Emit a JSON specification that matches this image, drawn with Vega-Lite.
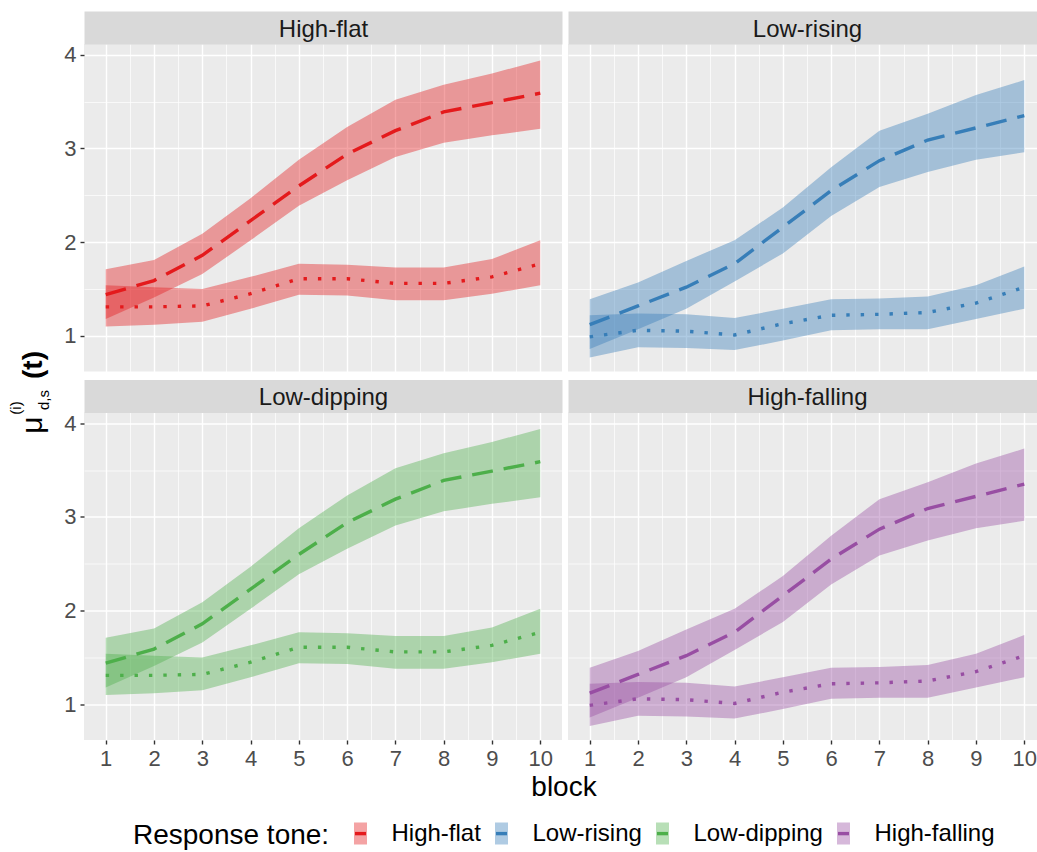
{
"$schema": "https://vega.github.io/schema/vega-lite/v6.json",
"padding": {"left": 8, "top": 17, "right": 0, "bottom": 0},
"config": {"font": "Liberation Sans", "view": {"stroke": null}},
"datasets": {
"main": [
{"tone":"High-flat","kind":"a","block":1,"mean":1.44,"lo":1.18,"hi":1.71},
{"tone":"High-flat","kind":"a","block":2,"mean":1.59,"lo":1.41,"hi":1.81},
{"tone":"High-flat","kind":"a","block":3,"mean":1.86,"lo":1.66,"hi":2.09},
{"tone":"High-flat","kind":"a","block":4,"mean":2.23,"lo":2.02,"hi":2.47},
{"tone":"High-flat","kind":"a","block":5,"mean":2.60,"lo":2.39,"hi":2.88},
{"tone":"High-flat","kind":"a","block":6,"mean":2.94,"lo":2.66,"hi":3.23},
{"tone":"High-flat","kind":"a","block":7,"mean":3.19,"lo":2.91,"hi":3.52},
{"tone":"High-flat","kind":"a","block":8,"mean":3.39,"lo":3.06,"hi":3.68},
{"tone":"High-flat","kind":"a","block":9,"mean":3.49,"lo":3.14,"hi":3.80},
{"tone":"High-flat","kind":"a","block":10,"mean":3.59,"lo":3.21,"hi":3.94},
{"tone":"High-flat","kind":"b","block":1,"mean":1.31,"lo":1.10,"hi":1.54},
{"tone":"High-flat","kind":"b","block":2,"mean":1.31,"lo":1.12,"hi":1.52},
{"tone":"High-flat","kind":"b","block":3,"mean":1.32,"lo":1.15,"hi":1.50},
{"tone":"High-flat","kind":"b","block":4,"mean":1.45,"lo":1.29,"hi":1.63},
{"tone":"High-flat","kind":"b","block":5,"mean":1.61,"lo":1.44,"hi":1.77},
{"tone":"High-flat","kind":"b","block":6,"mean":1.61,"lo":1.43,"hi":1.76},
{"tone":"High-flat","kind":"b","block":7,"mean":1.56,"lo":1.38,"hi":1.73},
{"tone":"High-flat","kind":"b","block":8,"mean":1.56,"lo":1.38,"hi":1.73},
{"tone":"High-flat","kind":"b","block":9,"mean":1.63,"lo":1.45,"hi":1.82},
{"tone":"High-flat","kind":"b","block":10,"mean":1.77,"lo":1.54,"hi":2.02},
{"tone":"Low-rising","kind":"a","block":1,"mean":1.12,"lo":0.86,"hi":1.39},
{"tone":"Low-rising","kind":"a","block":2,"mean":1.32,"lo":1.07,"hi":1.57},
{"tone":"Low-rising","kind":"a","block":3,"mean":1.52,"lo":1.29,"hi":1.80},
{"tone":"Low-rising","kind":"a","block":4,"mean":1.77,"lo":1.58,"hi":2.02},
{"tone":"Low-rising","kind":"a","block":5,"mean":2.16,"lo":1.88,"hi":2.37},
{"tone":"Low-rising","kind":"a","block":6,"mean":2.55,"lo":2.28,"hi":2.80},
{"tone":"Low-rising","kind":"a","block":7,"mean":2.87,"lo":2.59,"hi":3.19},
{"tone":"Low-rising","kind":"a","block":8,"mean":3.09,"lo":2.75,"hi":3.37},
{"tone":"Low-rising","kind":"a","block":9,"mean":3.22,"lo":2.88,"hi":3.57},
{"tone":"Low-rising","kind":"a","block":10,"mean":3.35,"lo":2.96,"hi":3.73},
{"tone":"Low-rising","kind":"b","block":1,"mean":0.99,"lo":0.77,"hi":1.22},
{"tone":"Low-rising","kind":"b","block":2,"mean":1.06,"lo":0.88,"hi":1.24},
{"tone":"Low-rising","kind":"b","block":3,"mean":1.05,"lo":0.87,"hi":1.23},
{"tone":"Low-rising","kind":"b","block":4,"mean":1.01,"lo":0.85,"hi":1.19},
{"tone":"Low-rising","kind":"b","block":5,"mean":1.13,"lo":0.95,"hi":1.29},
{"tone":"Low-rising","kind":"b","block":6,"mean":1.22,"lo":1.06,"hi":1.39},
{"tone":"Low-rising","kind":"b","block":7,"mean":1.23,"lo":1.07,"hi":1.40},
{"tone":"Low-rising","kind":"b","block":8,"mean":1.25,"lo":1.07,"hi":1.42},
{"tone":"Low-rising","kind":"b","block":9,"mean":1.35,"lo":1.18,"hi":1.54},
{"tone":"Low-rising","kind":"b","block":10,"mean":1.52,"lo":1.29,"hi":1.74},
{"tone":"Low-dipping","kind":"a","block":1,"mean":1.44,"lo":1.18,"hi":1.71},
{"tone":"Low-dipping","kind":"a","block":2,"mean":1.59,"lo":1.41,"hi":1.81},
{"tone":"Low-dipping","kind":"a","block":3,"mean":1.86,"lo":1.66,"hi":2.09},
{"tone":"Low-dipping","kind":"a","block":4,"mean":2.23,"lo":2.02,"hi":2.47},
{"tone":"Low-dipping","kind":"a","block":5,"mean":2.60,"lo":2.39,"hi":2.88},
{"tone":"Low-dipping","kind":"a","block":6,"mean":2.94,"lo":2.66,"hi":3.23},
{"tone":"Low-dipping","kind":"a","block":7,"mean":3.19,"lo":2.91,"hi":3.52},
{"tone":"Low-dipping","kind":"a","block":8,"mean":3.39,"lo":3.06,"hi":3.68},
{"tone":"Low-dipping","kind":"a","block":9,"mean":3.49,"lo":3.14,"hi":3.80},
{"tone":"Low-dipping","kind":"a","block":10,"mean":3.59,"lo":3.21,"hi":3.94},
{"tone":"Low-dipping","kind":"b","block":1,"mean":1.31,"lo":1.10,"hi":1.54},
{"tone":"Low-dipping","kind":"b","block":2,"mean":1.31,"lo":1.12,"hi":1.52},
{"tone":"Low-dipping","kind":"b","block":3,"mean":1.32,"lo":1.15,"hi":1.50},
{"tone":"Low-dipping","kind":"b","block":4,"mean":1.45,"lo":1.29,"hi":1.63},
{"tone":"Low-dipping","kind":"b","block":5,"mean":1.61,"lo":1.44,"hi":1.77},
{"tone":"Low-dipping","kind":"b","block":6,"mean":1.61,"lo":1.43,"hi":1.76},
{"tone":"Low-dipping","kind":"b","block":7,"mean":1.56,"lo":1.38,"hi":1.73},
{"tone":"Low-dipping","kind":"b","block":8,"mean":1.56,"lo":1.38,"hi":1.73},
{"tone":"Low-dipping","kind":"b","block":9,"mean":1.63,"lo":1.45,"hi":1.82},
{"tone":"Low-dipping","kind":"b","block":10,"mean":1.77,"lo":1.54,"hi":2.02},
{"tone":"High-falling","kind":"a","block":1,"mean":1.12,"lo":0.86,"hi":1.39},
{"tone":"High-falling","kind":"a","block":2,"mean":1.32,"lo":1.07,"hi":1.57},
{"tone":"High-falling","kind":"a","block":3,"mean":1.52,"lo":1.29,"hi":1.80},
{"tone":"High-falling","kind":"a","block":4,"mean":1.77,"lo":1.58,"hi":2.02},
{"tone":"High-falling","kind":"a","block":5,"mean":2.16,"lo":1.88,"hi":2.37},
{"tone":"High-falling","kind":"a","block":6,"mean":2.55,"lo":2.28,"hi":2.80},
{"tone":"High-falling","kind":"a","block":7,"mean":2.87,"lo":2.59,"hi":3.19},
{"tone":"High-falling","kind":"a","block":8,"mean":3.09,"lo":2.75,"hi":3.37},
{"tone":"High-falling","kind":"a","block":9,"mean":3.22,"lo":2.88,"hi":3.57},
{"tone":"High-falling","kind":"a","block":10,"mean":3.35,"lo":2.96,"hi":3.73},
{"tone":"High-falling","kind":"b","block":1,"mean":0.99,"lo":0.77,"hi":1.22},
{"tone":"High-falling","kind":"b","block":2,"mean":1.06,"lo":0.88,"hi":1.24},
{"tone":"High-falling","kind":"b","block":3,"mean":1.05,"lo":0.87,"hi":1.23},
{"tone":"High-falling","kind":"b","block":4,"mean":1.01,"lo":0.85,"hi":1.19},
{"tone":"High-falling","kind":"b","block":5,"mean":1.13,"lo":0.95,"hi":1.29},
{"tone":"High-falling","kind":"b","block":6,"mean":1.22,"lo":1.06,"hi":1.39},
{"tone":"High-falling","kind":"b","block":7,"mean":1.23,"lo":1.07,"hi":1.40},
{"tone":"High-falling","kind":"b","block":8,"mean":1.25,"lo":1.07,"hi":1.42},
{"tone":"High-falling","kind":"b","block":9,"mean":1.35,"lo":1.18,"hi":1.54},
{"tone":"High-falling","kind":"b","block":10,"mean":1.52,"lo":1.29,"hi":1.74}
]
},
"columns": 2,
"spacing": {"row": 40.5, "column": 6},
"bounds": "flush",
"concat": [
{"width": 478, "height": 327.5, "data": {"name": "main"}, "transform": [{"filter": "datum.tone === 'High-flat'"}], "view": {"fill": "#EBEBEB", "stroke": null},
 "resolve": {"axis": {"x": "independent"}},
 "layer": [
  {"mark": {"type": "area", "fillOpacity": 0.4},
   "encoding": {
    "x": {"field": "block", "type": "quantitative", "scale": {"domain": [0.55, 10.45], "nice": false, "zero": false},
      "axis": {"values": [1,1.5,2,2.5,3,3.5,4,4.5,5,5.5,6,6.5,7,7.5,8,8.5,9,9.5,10], "labels": false, "ticks": false, "domain": false, "title": null, "gridColor": "#FFFFFF", "gridWidth": {"condition": {"test": "datum.value % 1 === 0", "value": 1.4}, "value": 0.7}}},
    "y": {"field": "lo", "type": "quantitative", "scale": {"domain": [0.62, 4.115], "nice": false, "zero": false},
     "axis": {"values": [1,1.5,2,2.5,3,3.5,4], "domain": false, "labelExpr": "datum.value % 1 === 0 ? '' + datum.value : ''", "labelFontSize": 22, "labelColor": "#4D4D4D", "labelPadding": 4, "labelOverlap": false, "labelFlush": false, "tickColor": "#333333", "tickSize": 4, "tickWidth": 1.4, "tickOpacity": {"condition": {"test": "datum.value % 1 === 0", "value": 1}, "value": 0}, "gridColor": "#FFFFFF", "gridWidth": {"condition": {"test": "datum.value % 1 === 0", "value": 1.4}, "value": 0.7}, "title": null}},
    "y2": {"field": "hi"},
    "detail": {"field": "kind"},
    "fill": {"field": "tone", "type": "nominal", "scale": {"domain": ["High-flat","Low-rising","Low-dipping","High-falling"], "range": ["#E41A1C","#377EB8","#4DAF4A","#984EA3"]},
     "legend": {"title": "Response tone:", "orient": "none", "legendX": 49, "legendY": 776.5, "direction": "horizontal", "columns": 4, "titleOrient": "left", "titleAnchor": "middle", "titleBaseline": "middle", "titleFontSize": 28, "titleFontWeight": "normal", "titleColor": "#000000", "titleLimit": 500, "titlePadding": 17.5, "labelFontSize": 24, "labelColor": "#000000", "labelOffset": 18, "columnPadding": 6, "padding": 0, "symbolType": "M-0.59,0L0.59,0L0.59,1L-0.59,1L-0.59,-1L0.59,-1L0.59,0Z", "symbolSize": 484, "symbolStrokeWidth": 3.4,
      "encode": {"symbols": {"update": {"fillOpacity": {"value": 0.4}, "strokeOpacity": {"value": 1}, "opacity": {"value": 1}, "strokeDash": {"value": [0, 1, 11, 1000]}, "stroke": {"signal": "datum.value === 'High-flat' ? '#E41A1C' : datum.value === 'Low-rising' ? '#377EB8' : datum.value === 'Low-dipping' ? '#4DAF4A' : '#984EA3'"}}}}}}}},
  {"mark": {"type": "line", "strokeWidth": 3.4},
   "encoding": {
    "x": {"field": "block", "type": "quantitative", "scale": {"domain": [0.55, 10.45], "nice": false, "zero": false},
      "axis": {"orient": "top", "grid": false, "labels": false, "ticks": false, "domain": true, "domainColor": "#D9D9D9", "domainWidth": 33, "offset": 16.5, "title": "High-flat", "titleX": 239, "titleY": 1.5, "titleAlign": "center", "titleBaseline": "middle", "titleFontSize": 24, "titleFontWeight": "normal", "titleColor": "#1A1A1A"}},
    "y": {"field": "mean", "type": "quantitative", "title": null},
    "stroke": {"field": "tone", "type": "nominal", "scale": {"domain": ["High-flat","Low-rising","Low-dipping","High-falling"], "range": ["#E41A1C","#377EB8","#4DAF4A","#984EA3"]}, "legend": null},
    "strokeDash": {"field": "kind", "type": "nominal", "scale": {"domain": ["a","b"], "range": [[21,11],[3.4,11]]}, "legend": null}}},
  {"data": {"values": [{"tone": "High-flat"}]}, "mark": {"type": "text", "text": "μ", "angle": 270, "fontSize": 30, "dx": -217.25, "dy": -281.5, "align": "center", "baseline": "alphabetic", "color": "#000000"}, "encoding": {}},
  {"data": {"values": [{"tone": "High-flat"}]}, "mark": {"type": "text", "text": "(i)", "angle": 270, "fontSize": 15, "dx": -200.25, "dy": -302.5, "align": "center", "baseline": "alphabetic", "color": "#000000"}, "encoding": {}},
  {"data": {"values": [{"tone": "High-flat"}]}, "mark": {"type": "text", "text": "d,s", "angle": 270, "fontSize": 15, "dx": -192.25, "dy": -274, "align": "center", "baseline": "alphabetic", "color": "#000000"}, "encoding": {}},
  {"data": {"values": [{"tone": "High-flat"}]}, "mark": {"type": "text", "text": "(t)", "angle": 270, "fontSize": 28, "fontWeight": "bold", "dx": -157.25, "dy": -281.5, "align": "center", "baseline": "alphabetic", "color": "#000000"}, "encoding": {}}
 ]},
{"width": 469, "height": 327.5, "data": {"name": "main"}, "transform": [{"filter": "datum.tone === 'Low-rising'"}], "view": {"fill": "#EBEBEB", "stroke": null},
 "resolve": {"axis": {"x": "independent"}},
 "layer": [
  {"mark": {"type": "area", "fillOpacity": 0.4},
   "encoding": {
    "x": {"field": "block", "type": "quantitative", "scale": {"domain": [0.55, 10.2636], "nice": false, "zero": false},
      "axis": {"values": [1,1.5,2,2.5,3,3.5,4,4.5,5,5.5,6,6.5,7,7.5,8,8.5,9,9.5,10], "labels": false, "ticks": false, "domain": false, "title": null, "gridColor": "#FFFFFF", "gridWidth": {"condition": {"test": "datum.value % 1 === 0", "value": 1.4}, "value": 0.7}}},
    "y": {"field": "lo", "type": "quantitative", "scale": {"domain": [0.62, 4.115], "nice": false, "zero": false},
     "axis": {"values": [1,1.5,2,2.5,3,3.5,4], "labels": false, "ticks": false, "domain": false, "gridColor": "#FFFFFF", "gridWidth": {"condition": {"test": "datum.value % 1 === 0", "value": 1.4}, "value": 0.7}, "title": null}},
    "y2": {"field": "hi"},
    "detail": {"field": "kind"},
    "fill": {"field": "tone", "type": "nominal", "scale": {"domain": ["High-flat","Low-rising","Low-dipping","High-falling"], "range": ["#E41A1C","#377EB8","#4DAF4A","#984EA3"]},
     "legend": {"title": "Response tone:", "orient": "none", "legendX": 49, "legendY": 776.5, "direction": "horizontal", "columns": 4, "titleOrient": "left", "titleAnchor": "middle", "titleBaseline": "middle", "titleFontSize": 28, "titleFontWeight": "normal", "titleColor": "#000000", "titleLimit": 500, "titlePadding": 17.5, "labelFontSize": 24, "labelColor": "#000000", "labelOffset": 18, "columnPadding": 6, "padding": 0, "symbolType": "M-0.59,0L0.59,0L0.59,1L-0.59,1L-0.59,-1L0.59,-1L0.59,0Z", "symbolSize": 484, "symbolStrokeWidth": 3.4,
      "encode": {"symbols": {"update": {"fillOpacity": {"value": 0.4}, "strokeOpacity": {"value": 1}, "opacity": {"value": 1}, "strokeDash": {"value": [0, 1, 11, 1000]}, "stroke": {"signal": "datum.value === 'High-flat' ? '#E41A1C' : datum.value === 'Low-rising' ? '#377EB8' : datum.value === 'Low-dipping' ? '#4DAF4A' : '#984EA3'"}}}}}}}},
  {"mark": {"type": "line", "strokeWidth": 3.4},
   "encoding": {
    "x": {"field": "block", "type": "quantitative", "scale": {"domain": [0.55, 10.2636], "nice": false, "zero": false},
      "axis": {"orient": "top", "grid": false, "labels": false, "ticks": false, "domain": true, "domainColor": "#D9D9D9", "domainWidth": 33, "offset": 16.5, "title": "Low-rising", "titleX": 239, "titleY": 1.5, "titleAlign": "center", "titleBaseline": "middle", "titleFontSize": 24, "titleFontWeight": "normal", "titleColor": "#1A1A1A"}},
    "y": {"field": "mean", "type": "quantitative", "title": null},
    "stroke": {"field": "tone", "type": "nominal", "scale": {"domain": ["High-flat","Low-rising","Low-dipping","High-falling"], "range": ["#E41A1C","#377EB8","#4DAF4A","#984EA3"]}, "legend": null},
    "strokeDash": {"field": "kind", "type": "nominal", "scale": {"domain": ["a","b"], "range": [[21,11],[3.4,11]]}, "legend": null}}}
 ]},
{"width": 478, "height": 327.5, "data": {"name": "main"}, "transform": [{"filter": "datum.tone === 'Low-dipping'"}], "view": {"fill": "#EBEBEB", "stroke": null},
 "resolve": {"axis": {"x": "independent"}},
 "layer": [
  {"mark": {"type": "area", "fillOpacity": 0.4},
   "encoding": {
    "x": {"field": "block", "type": "quantitative", "scale": {"domain": [0.55, 10.45], "nice": false, "zero": false},
      "axis": {"values": [1,1.5,2,2.5,3,3.5,4,4.5,5,5.5,6,6.5,7,7.5,8,8.5,9,9.5,10], "domain": false, "labelExpr": "datum.value % 1 === 0 ? '' + datum.value : ''", "labelFontSize": 22, "labelColor": "#4D4D4D", "labelPadding": 4.5, "labelOverlap": false, "labelFlush": false, "tickColor": "#333333", "tickSize": 4, "tickWidth": 1.4, "tickOpacity": {"condition": {"test": "datum.value % 1 === 0", "value": 1}, "value": 0}, "gridColor": "#FFFFFF", "gridWidth": {"condition": {"test": "datum.value % 1 === 0", "value": 1.4}, "value": 0.7},
       "title": "block", "titleX": 479.5, "titleY": 55.5, "titleAlign": "center", "titleBaseline": "alphabetic", "titleFontSize": 28, "titleFontWeight": "normal", "titleColor": "#000000"}},
    "y": {"field": "lo", "type": "quantitative", "scale": {"domain": [0.62, 4.115], "nice": false, "zero": false},
     "axis": {"values": [1,1.5,2,2.5,3,3.5,4], "domain": false, "labelExpr": "datum.value % 1 === 0 ? '' + datum.value : ''", "labelFontSize": 22, "labelColor": "#4D4D4D", "labelPadding": 4, "labelOverlap": false, "labelFlush": false, "tickColor": "#333333", "tickSize": 4, "tickWidth": 1.4, "tickOpacity": {"condition": {"test": "datum.value % 1 === 0", "value": 1}, "value": 0}, "gridColor": "#FFFFFF", "gridWidth": {"condition": {"test": "datum.value % 1 === 0", "value": 1.4}, "value": 0.7}, "title": null}},
    "y2": {"field": "hi"},
    "detail": {"field": "kind"},
    "fill": {"field": "tone", "type": "nominal", "scale": {"domain": ["High-flat","Low-rising","Low-dipping","High-falling"], "range": ["#E41A1C","#377EB8","#4DAF4A","#984EA3"]},
     "legend": {"title": "Response tone:", "orient": "none", "legendX": 49, "legendY": 776.5, "direction": "horizontal", "columns": 4, "titleOrient": "left", "titleAnchor": "middle", "titleBaseline": "middle", "titleFontSize": 28, "titleFontWeight": "normal", "titleColor": "#000000", "titleLimit": 500, "titlePadding": 17.5, "labelFontSize": 24, "labelColor": "#000000", "labelOffset": 18, "columnPadding": 6, "padding": 0, "symbolType": "M-0.59,0L0.59,0L0.59,1L-0.59,1L-0.59,-1L0.59,-1L0.59,0Z", "symbolSize": 484, "symbolStrokeWidth": 3.4,
      "encode": {"symbols": {"update": {"fillOpacity": {"value": 0.4}, "strokeOpacity": {"value": 1}, "opacity": {"value": 1}, "strokeDash": {"value": [0, 1, 11, 1000]}, "stroke": {"signal": "datum.value === 'High-flat' ? '#E41A1C' : datum.value === 'Low-rising' ? '#377EB8' : datum.value === 'Low-dipping' ? '#4DAF4A' : '#984EA3'"}}}}}}}},
  {"mark": {"type": "line", "strokeWidth": 3.4},
   "encoding": {
    "x": {"field": "block", "type": "quantitative", "scale": {"domain": [0.55, 10.45], "nice": false, "zero": false},
      "axis": {"orient": "top", "grid": false, "labels": false, "ticks": false, "domain": true, "domainColor": "#D9D9D9", "domainWidth": 33, "offset": 16.5, "title": "Low-dipping", "titleX": 239, "titleY": 1.5, "titleAlign": "center", "titleBaseline": "middle", "titleFontSize": 24, "titleFontWeight": "normal", "titleColor": "#1A1A1A"}},
    "y": {"field": "mean", "type": "quantitative", "title": null},
    "stroke": {"field": "tone", "type": "nominal", "scale": {"domain": ["High-flat","Low-rising","Low-dipping","High-falling"], "range": ["#E41A1C","#377EB8","#4DAF4A","#984EA3"]}, "legend": null},
    "strokeDash": {"field": "kind", "type": "nominal", "scale": {"domain": ["a","b"], "range": [[21,11],[3.4,11]]}, "legend": null}}}
 ]},
{"width": 469, "height": 327.5, "data": {"name": "main"}, "transform": [{"filter": "datum.tone === 'High-falling'"}], "view": {"fill": "#EBEBEB", "stroke": null},
 "resolve": {"axis": {"x": "independent"}},
 "layer": [
  {"mark": {"type": "area", "fillOpacity": 0.4},
   "encoding": {
    "x": {"field": "block", "type": "quantitative", "scale": {"domain": [0.55, 10.2636], "nice": false, "zero": false},
      "axis": {"values": [1,1.5,2,2.5,3,3.5,4,4.5,5,5.5,6,6.5,7,7.5,8,8.5,9,9.5,10], "domain": false, "labelExpr": "datum.value % 1 === 0 ? '' + datum.value : ''", "labelFontSize": 22, "labelColor": "#4D4D4D", "labelPadding": 4.5, "labelOverlap": false, "labelFlush": false, "tickColor": "#333333", "tickSize": 4, "tickWidth": 1.4, "tickOpacity": {"condition": {"test": "datum.value % 1 === 0", "value": 1}, "value": 0}, "gridColor": "#FFFFFF", "gridWidth": {"condition": {"test": "datum.value % 1 === 0", "value": 1.4}, "value": 0.7}, "title": null}},
    "y": {"field": "lo", "type": "quantitative", "scale": {"domain": [0.62, 4.115], "nice": false, "zero": false},
     "axis": {"values": [1,1.5,2,2.5,3,3.5,4], "labels": false, "ticks": false, "domain": false, "gridColor": "#FFFFFF", "gridWidth": {"condition": {"test": "datum.value % 1 === 0", "value": 1.4}, "value": 0.7}, "title": null}},
    "y2": {"field": "hi"},
    "detail": {"field": "kind"},
    "fill": {"field": "tone", "type": "nominal", "scale": {"domain": ["High-flat","Low-rising","Low-dipping","High-falling"], "range": ["#E41A1C","#377EB8","#4DAF4A","#984EA3"]},
     "legend": {"title": "Response tone:", "orient": "none", "legendX": 49, "legendY": 776.5, "direction": "horizontal", "columns": 4, "titleOrient": "left", "titleAnchor": "middle", "titleBaseline": "middle", "titleFontSize": 28, "titleFontWeight": "normal", "titleColor": "#000000", "titleLimit": 500, "titlePadding": 17.5, "labelFontSize": 24, "labelColor": "#000000", "labelOffset": 18, "columnPadding": 6, "padding": 0, "symbolType": "M-0.59,0L0.59,0L0.59,1L-0.59,1L-0.59,-1L0.59,-1L0.59,0Z", "symbolSize": 484, "symbolStrokeWidth": 3.4,
      "encode": {"symbols": {"update": {"fillOpacity": {"value": 0.4}, "strokeOpacity": {"value": 1}, "opacity": {"value": 1}, "strokeDash": {"value": [0, 1, 11, 1000]}, "stroke": {"signal": "datum.value === 'High-flat' ? '#E41A1C' : datum.value === 'Low-rising' ? '#377EB8' : datum.value === 'Low-dipping' ? '#4DAF4A' : '#984EA3'"}}}}}}}},
  {"mark": {"type": "line", "strokeWidth": 3.4},
   "encoding": {
    "x": {"field": "block", "type": "quantitative", "scale": {"domain": [0.55, 10.2636], "nice": false, "zero": false},
      "axis": {"orient": "top", "grid": false, "labels": false, "ticks": false, "domain": true, "domainColor": "#D9D9D9", "domainWidth": 33, "offset": 16.5, "title": "High-falling", "titleX": 239, "titleY": 1.5, "titleAlign": "center", "titleBaseline": "middle", "titleFontSize": 24, "titleFontWeight": "normal", "titleColor": "#1A1A1A"}},
    "y": {"field": "mean", "type": "quantitative", "title": null},
    "stroke": {"field": "tone", "type": "nominal", "scale": {"domain": ["High-flat","Low-rising","Low-dipping","High-falling"], "range": ["#E41A1C","#377EB8","#4DAF4A","#984EA3"]}, "legend": null},
    "strokeDash": {"field": "kind", "type": "nominal", "scale": {"domain": ["a","b"], "range": [[21,11],[3.4,11]]}, "legend": null}}}
 ]}
]
}
